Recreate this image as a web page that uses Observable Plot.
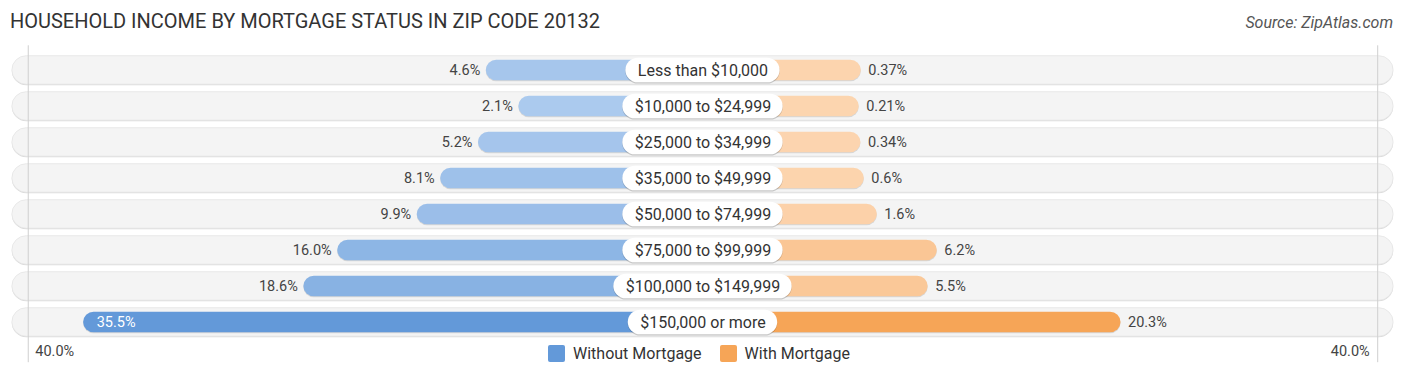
<!DOCTYPE html>
<html><head><meta charset="utf-8">
<script src="https://cdn.jsdelivr.net/npm/d3@7"></script>
<script src="https://cdn.jsdelivr.net/npm/@observablehq/plot@0.6"></script>
<style>
body{margin:0;background:#fff;font-family:Roboto,sans-serif;width:1406px;height:378px;overflow:hidden}
#head{position:relative;height:45px}
#title{position:absolute;left:10px;top:9px;font-size:20px;color:#333;white-space:nowrap}
#source{position:absolute;right:13px;top:13px;font-size:16px;font-style:italic;color:#555;white-space:nowrap}
#chart{position:relative;height:333px}
#legend{position:absolute;left:0;right:8px;top:299px;display:flex;justify-content:center;align-items:center;font-size:16px;color:#333}
.sw{width:17px;height:17px;border-radius:2px;margin-right:8px;display:inline-block}
.it{display:flex;align-items:center;margin:0 9px}
</style></head>
<body>
<div id="head"><div id="title">HOUSEHOLD INCOME BY MORTGAGE STATUS IN ZIP CODE 20132</div><div id="source">Source: ZipAtlas.com</div></div>
<div id="chart"><div id="legend"></div></div>
<script>
const categories = ["Less than $10,000","$10,000 to $24,999","$25,000 to $34,999","$35,000 to $49,999","$50,000 to $74,999","$75,000 to $99,999","$100,000 to $149,999","$150,000 or more"];
const withoutMortgage = [4.6, 2.1, 5.2, 8.1, 9.9, 16.0, 18.6, 35.5];
const withMortgage = [0.37, 0.21, 0.34, 0.6, 1.6, 6.2, 5.5, 20.3];
const seriesNames = ["Without Mortgage", "With Mortgage"];
const seriesColors = ["#6399d9", "#f6a557"];
const axisMax = 40;
const axisLabel = "40.0%";

const W = 1406, H = 333;
const xDomain = [-53.91, 53.99];
const k = W / (xDomain[1] - xDomain[0]);
const G = 153.5 / k; // half-gap reserved for the category label
const bgHalf = 53.0;

const fmt = v => v >= 1 ? v.toFixed(1) + "%" : v + "%";
const blueI = d3.interpolateRgb("#b0cdef", seriesColors[0]);
const orI = d3.interpolateRgb("#fcd5b0", seriesColors[1]);
const maxL = d3.max(withoutMortgage), maxR = d3.max(withMortgage);

const ctx = document.createElement("canvas").getContext("2d");
ctx.font = "16px Roboto";

const rows = categories.map((c, i) => ({
  cat: c,
  l: withoutMortgage[i],
  r: withMortgage[i],
  lc: blueI(withoutMortgage[i] / maxL),
  rc: orI(withMortgage[i] / maxR),
  hw: (ctx.measureText(c).width + 24) / 2 / k,
  inside: withoutMortgage[i] === maxL
}));

const yOpt = {y: "cat"};
const svg = Plot.plot({
  width: W, height: H,
  marginLeft: 0, marginRight: 0, marginTop: 5.3, marginBottom: 36.8,
  x: {domain: xDomain, axis: null},
  y: {domain: categories, axis: null, padding: 0},
  color: {type: "identity"},
  style: {fontFamily: "Roboto, sans-serif", fontSize: "14.5px", color: "#444", background: "transparent"},
  marks: [
    Plot.barX(rows, {...yOpt, x1: -bgHalf, x2: bgHalf, insetTop: 3.7, insetBottom: 3.7, rx: 14.5, fill: "#dadada", dy: 1}),
    Plot.barX(rows, {...yOpt, x1: -bgHalf, x2: bgHalf, insetTop: 3.7, insetBottom: 3.7, rx: 14.5, fill: "#f4f4f4", stroke: "#e4e4e4", strokeWidth: 0.8}),
    Plot.ruleX([-(axisMax + G), axisMax + G], {stroke: "#cfcfcf", strokeWidth: 1, insetTop: -5, insetBottom: -21}),
    Plot.barX(rows, {...yOpt, x1: 0, x2: d => -(d.l + G + 0.25), insetTop: 7.7, insetBottom: 7.7, rx: 10.5, fill: "#000", fillOpacity: 0.12, dy: 1}),
    Plot.barX(rows, {...yOpt, x1: 0, x2: d => -(d.l + G + 0.25), insetTop: 7.7, insetBottom: 7.7, rx: 10.5, fill: "lc"}),
    Plot.barX(rows, {...yOpt, x1: 0, x2: d => d.r + G, insetTop: 7.7, insetBottom: 7.7, rx: 10.5, fill: "#000", fillOpacity: 0.12, dy: 1}),
    Plot.barX(rows, {...yOpt, x1: 0, x2: d => d.r + G, insetTop: 7.7, insetBottom: 7.7, rx: 10.5, fill: "rc"}),
    Plot.barX(rows, {...yOpt, x1: d => -d.hw, x2: d => d.hw, insetTop: 5.7, insetBottom: 5.7, rx: 12.5, fill: "#000", fillOpacity: 0.18, dy: 1.2}),
    Plot.barX(rows, {...yOpt, x1: d => -d.hw, x2: d => d.hw, insetTop: 5.7, insetBottom: 5.7, rx: 12.5, fill: "#fff"}),
    Plot.text(rows, {...yOpt, x: 0, text: "cat", fontSize: 16, fill: "#333"}),
    Plot.text(rows.filter(d => !d.inside), {...yOpt, x: d => -(d.l + G + 0.25), text: d => fmt(d.l), textAnchor: "end", dx: -6, fill: "#444"}),
    Plot.text(rows.filter(d => d.inside), {...yOpt, x: d => -(d.l + G + 0.25), text: d => fmt(d.l), textAnchor: "start", dx: 13, fill: "#fff"}),
    Plot.text(rows, {...yOpt, x: d => d.r + G, text: d => fmt(d.r), textAnchor: "start", dx: 7, fill: "#444"}),
    Plot.text([-(axisMax + G)], {x: d => d, text: () => axisLabel, frameAnchor: "bottom", dy: 14, textAnchor: "start", dx: 7, fill: "#444"}),
    Plot.text([axisMax + G], {x: d => d, text: () => axisLabel, frameAnchor: "bottom", dy: 14, textAnchor: "end", dx: -8, fill: "#444"})
  ]
});
const chart = document.getElementById("chart");
chart.insertBefore(svg, chart.firstChild);
svg.style.display = "block";

const lg = document.getElementById("legend");
seriesNames.forEach((n, i) => {
  const it = document.createElement("div"); it.className = "it";
  const sw = document.createElement("span"); sw.className = "sw"; sw.style.background = seriesColors[i];
  it.appendChild(sw); it.appendChild(document.createTextNode(n));
  lg.appendChild(it);
});
</script>
</body></html>
